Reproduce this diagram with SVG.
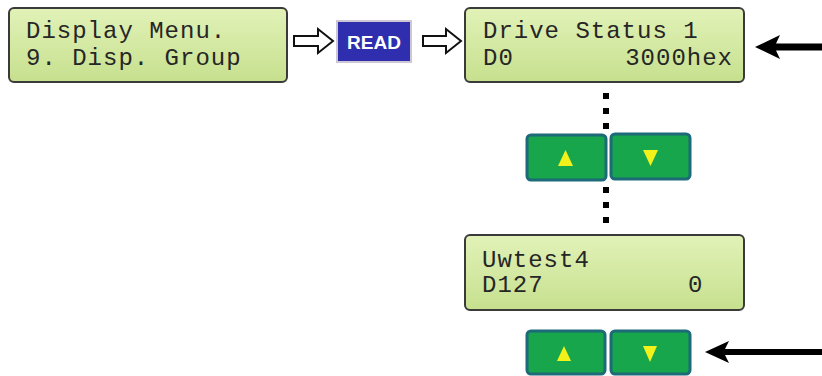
<svg xmlns="http://www.w3.org/2000/svg" width="822" height="376" viewBox="0 0 822 376">
<defs>
<linearGradient id="lcdg" x1="0" y1="0" x2="0" y2="1">
<stop offset="0" stop-color="#e2f2b8"/>
<stop offset="1" stop-color="#c6e08e"/>
</linearGradient>
<style>
.lcd{fill:url(#lcdg);stroke:#3a3a3a;stroke-width:2}
.lt{font-family:"Liberation Mono","DejaVu Sans Mono",monospace;font-size:24px;letter-spacing:1px;fill:#262626}
.btn{fill:#17a64c;stroke:#1d6a78;stroke-width:3}
.tri{fill:#f2f21a}
.hol{fill:#ffffff;stroke:#111;stroke-width:2;stroke-linejoin:miter}
.dot{fill:#000}
.sol{fill:#000}
</style>
</defs>
<rect width="822" height="376" fill="#ffffff"/>

<g id="lcd-display-menu">
<rect class="lcd" x="9" y="8" width="278" height="74" rx="5"/>
<text class="lt" x="26" y="38">Display Menu.</text>
<text class="lt" x="26" y="65">9. Disp. Group</text>
</g>

<g id="read-button">
<rect x="337" y="21" width="74" height="41" fill="#2e2eae" stroke="#cdc6d4" stroke-width="2"/>
<text x="374" y="48.5" text-anchor="middle" font-family="Liberation Sans, Arial, sans-serif" font-weight="bold" font-size="19" fill="#ffffff">READ</text>
</g>

<g id="lcd-drive-status">
<rect class="lcd" x="465" y="8" width="279" height="74" rx="5"/>
<text class="lt" x="483" y="38">Drive Status 1</text>
<text class="lt" x="483" y="65">D0</text>
<text class="lt" x="733" y="65" text-anchor="end">3000hex</text>
</g>

<g id="buttons-1">
<rect class="btn" x="527" y="135" width="79" height="45" rx="4"/>
<polygon class="tri" points="565.5,150 573,166 558,166"/>
<rect class="btn" x="611" y="134" width="79" height="45" rx="4"/>
<polygon class="tri" points="643,150 658,150 650.5,166"/>
</g>

<g id="lcd-uwtest4">
<rect class="lcd" x="465" y="235" width="279" height="75" rx="5"/>
<text class="lt" x="482" y="267">Uwtest4</text>
<text class="lt" x="482" y="292">D127</text>
<text class="lt" x="688" y="292">0</text>
</g>

<g id="buttons-2">
<rect class="btn" x="527" y="331" width="78" height="43" rx="4"/>
<polygon class="tri" points="564,346 571,361 557,361"/>
<rect class="btn" x="611" y="331" width="79" height="43" rx="4"/>
<polygon class="tri" points="643,346 657,346 650,362"/>
</g>

<g id="connectors">
<polygon class="hol" points="294,36 318,36 318,29 333,41 318,53 318,46 294,46"/>
<polygon class="hol" points="423,36 446,36 446,29 461,41 446,53 446,46 423,46"/>
<rect class="dot" x="603" y="93" width="6" height="6"/>
<rect class="dot" x="603" y="108" width="6" height="6"/>
<rect class="dot" x="603" y="123" width="6" height="6"/>
<rect class="dot" x="603" y="187" width="6" height="6"/>
<rect class="dot" x="603" y="202" width="6" height="6"/>
<rect class="dot" x="603" y="217" width="6" height="6"/>
<polygon class="sol" points="755,47 780,35 776,43.5 822,43.5 822,50.5 776,50.5 780,59"/>
<polygon class="sol" points="705,352 729,341 725,349 822,349 822,355 725,355 729,363"/>
</g>
</svg>
